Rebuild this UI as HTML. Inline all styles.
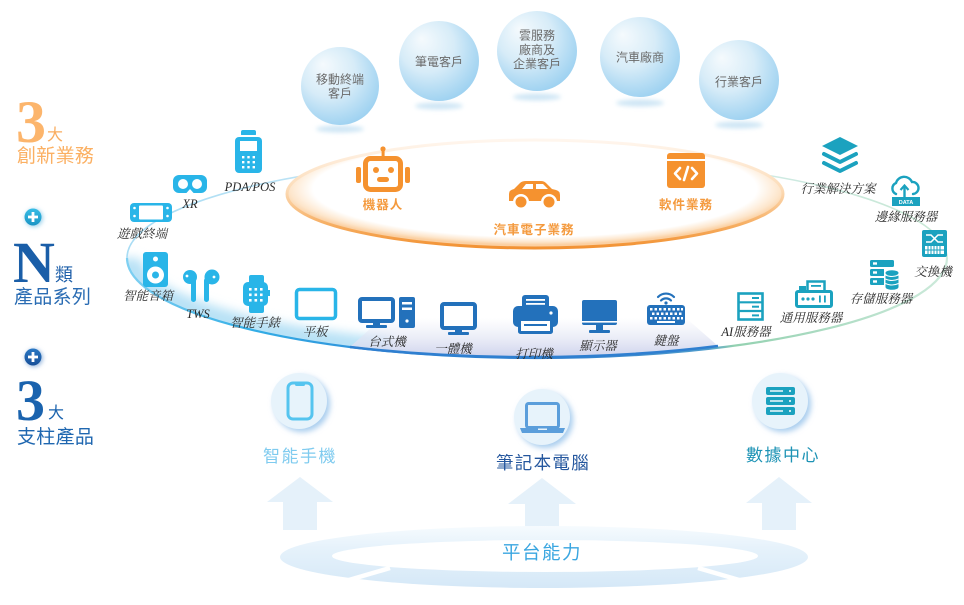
<!DOCTYPE html>
<html><head><meta charset="utf-8">
<style>
html,body{margin:0;padding:0;background:#fff;}
svg{display:block;}
.dl{font-family:"Liberation Serif","Noto Serif CJK SC",serif;font-style:italic;font-size:12.5px;fill:#2b2b2b;text-anchor:middle;}
.bt{font-family:"Liberation Sans","Noto Sans CJK TC",sans-serif;font-size:12px;fill:#6a6a6a;text-anchor:middle;}
.ol{font-family:"Liberation Sans","Noto Sans CJK TC",sans-serif;font-size:12.5px;font-weight:bold;fill:#f49a3e;text-anchor:middle;letter-spacing:1px;}
.cj{font-family:"Liberation Sans","Noto Sans CJK TC",sans-serif;}
.sf{font-family:"Liberation Serif",serif;font-weight:bold;}
</style></head><body>
<svg width="964" height="605" viewBox="0 0 964 605" xmlns="http://www.w3.org/2000/svg">
<defs>
  <radialGradient id="bub" cx="42%" cy="38%" r="68%" fx="28%" fy="22%">
    <stop offset="0" stop-color="#f5fafd"/>
    <stop offset="0.5" stop-color="#d7ecf8"/>
    <stop offset="1" stop-color="#98cff0"/>
  </radialGradient>
  <filter id="b2" x="-50%" y="-50%" width="200%" height="200%"><feGaussianBlur stdDeviation="2"/></filter>
  <filter id="b3" x="-50%" y="-50%" width="200%" height="200%"><feGaussianBlur stdDeviation="3"/></filter>
  <filter id="b5" x="-20%" y="-50%" width="140%" height="200%"><feGaussianBlur stdDeviation="5"/></filter>
  <radialGradient id="ofill" cx="50%" cy="45%" r="52%">
    <stop offset="0" stop-color="#ffffff"/>
    <stop offset="0.86" stop-color="#ffffff"/>
    <stop offset="0.95" stop-color="#fde6cc"/>
    <stop offset="1" stop-color="#fbd0a2"/>
  </radialGradient>
  <linearGradient id="ostroke" x1="0" y1="0" x2="0" y2="1">
    <stop offset="0" stop-color="#fff6ee"/>
    <stop offset="0.45" stop-color="#fcdcb8"/>
    <stop offset="0.8" stop-color="#f6ac5e"/>
    <stop offset="1" stop-color="#f29233"/>
  </linearGradient>
  <linearGradient id="ring" gradientUnits="userSpaceOnUse" x1="127" y1="0" x2="947" y2="0">
    <stop offset="0" stop-color="#7fd0f2"/>
    <stop offset="0.15" stop-color="#33aee6"/>
    <stop offset="0.27" stop-color="#3096dc"/>
    <stop offset="0.5" stop-color="#2f7ccc"/>
    <stop offset="0.71" stop-color="#4f9ccc"/>
    <stop offset="0.74" stop-color="#93d1b0"/>
    <stop offset="1" stop-color="#cdeadb"/>
  </linearGradient>
  <linearGradient id="ringtop" gradientUnits="userSpaceOnUse" x1="127" y1="0" x2="947" y2="0">
    <stop offset="0" stop-color="#a8dcf4"/>
    <stop offset="0.5" stop-color="#d6ecf6"/>
    <stop offset="1" stop-color="#c8e8d4"/>
  </linearGradient>
  <linearGradient id="shelf" x1="0" y1="0" x2="0" y2="1">
    <stop offset="0" stop-color="#e4e7f5" stop-opacity="0"/>
    <stop offset="0.6" stop-color="#e0e3f3" stop-opacity="0.8"/>
    <stop offset="1" stop-color="#cdd2ec"/>
  </linearGradient>
  <linearGradient id="plat" x1="0" y1="0" x2="0" y2="1">
    <stop offset="0" stop-color="#f6fbfe"/>
    <stop offset="0.35" stop-color="#e6f2fb"/>
    <stop offset="1" stop-color="#d5e8f7"/>
  </linearGradient>
  <clipPath id="ellclip"><ellipse cx="537" cy="258" rx="410" ry="100"/></clipPath>
  <linearGradient id="p1" x1="0" y1="0" x2="0" y2="1">
    <stop offset="0" stop-color="#38bde6"/><stop offset="1" stop-color="#1a94c4"/>
  </linearGradient>
  <linearGradient id="p2" x1="0" y1="0" x2="0" y2="1">
    <stop offset="0" stop-color="#2a78c4"/><stop offset="1" stop-color="#174f98"/>
  </linearGradient>
</defs>

<rect width="964" height="605" fill="#fff"/>

<!-- Left titles -->
<text x="16" y="142" class="sf" font-size="60" fill="#fcb56c">3</text>
<text x="47" y="140" class="cj" font-size="16" fill="#f9ad60">大</text>
<text x="17" y="162" class="cj" font-size="19" fill="#fbb063" letter-spacing="0.3">創新業務</text>

<circle cx="34" cy="218" r="9" fill="#9fd3ec" filter="url(#b2)"/>
<circle cx="33" cy="217" r="8.5" fill="url(#p1)"/>
<rect x="28" y="215.6" width="10" height="2.8" fill="#fff"/>
<rect x="31.6" y="212" width="2.8" height="10" fill="#fff"/>

<text x="13" y="282" class="sf" font-size="58" fill="#1a5ea8">N</text>
<text x="55" y="281" class="cj" font-size="18" fill="#1e5fa9">類</text>
<text x="14" y="303" class="cj" font-size="19" fill="#2a6cb3" letter-spacing="0.3">產品系列</text>

<circle cx="34" cy="358" r="9" fill="#9dbbe0" filter="url(#b2)"/>
<circle cx="33" cy="357" r="8.5" fill="url(#p2)"/>
<rect x="28" y="355.6" width="10" height="2.8" fill="#fff"/>
<rect x="31.6" y="352" width="2.8" height="10" fill="#fff"/>

<text x="16" y="420" class="sf" font-size="58" fill="#1a63ae">3</text>
<text x="48" y="418" class="cj" font-size="16" fill="#1a63ae">大</text>
<text x="17" y="443" class="cj" font-size="19" fill="#1f67b0" letter-spacing="0.3">支柱產品</text>

<!-- Big ring -->
<g clip-path="url(#ellclip)">
  <path d="M127,258 A410,100 0 0 0 390,352" fill="none" stroke="#b9e2f6" stroke-width="28" filter="url(#b5)"/>
</g>
<path d="M350,347 L382,318 L686,318 L718,346 A410,100 0 0 1 350,347 Z" fill="url(#shelf)"/>
<path d="M127,258 A410,100 0 0 1 947,258" fill="none" stroke="url(#ringtop)" stroke-width="1.6"/>
<path d="M127,258 A410,100 0 0 0 947,258" fill="none" stroke="url(#ring)" stroke-width="2.2"/>
<path d="M350,347 A410,100 0 0 0 718,346" fill="none" stroke="#2f7fd0" stroke-width="2.6"/>

<!-- Bubbles -->
<g fill="#cfe6f5" filter="url(#b2)">
  <ellipse cx="340" cy="129" rx="24" ry="3.5"/>
  <ellipse cx="439" cy="106" rx="24" ry="3.5"/>
  <ellipse cx="537" cy="97" rx="24" ry="3.5"/>
  <ellipse cx="640" cy="103" rx="24" ry="3.5"/>
  <ellipse cx="739" cy="125" rx="24" ry="3.5"/>
</g>
<circle cx="340" cy="86" r="39" fill="url(#bub)"/>
<circle cx="439" cy="61" r="40" fill="url(#bub)"/>
<circle cx="537" cy="51" r="40" fill="url(#bub)"/>
<circle cx="640" cy="57" r="40" fill="url(#bub)"/>
<circle cx="739" cy="80" r="40" fill="url(#bub)"/>
<text x="340" y="83.5" class="bt">移動終端</text>
<text x="340" y="97.5" class="bt">客戶</text>
<text x="439" y="66" class="bt">筆電客戶</text>
<text x="537" y="39.5" class="bt">雲服務</text>
<text x="537" y="54" class="bt">廠商及</text>
<text x="537" y="68" class="bt">企業客戶</text>
<text x="640" y="61.5" class="bt">汽車廠商</text>
<text x="739" y="86" class="bt">行業客戶</text>

<!-- Orange ellipse -->
<ellipse cx="535" cy="194" rx="248" ry="54" fill="url(#ofill)"/>
<ellipse cx="535" cy="194" rx="248" ry="54" fill="none" stroke="url(#ostroke)" stroke-width="3"/>

<!-- Robot -->
<g fill="#f5922f">
  <rect x="381.6" y="149" width="3" height="9"/>
  <circle cx="383" cy="149" r="2.6"/>
  <rect x="356" y="167" width="5" height="16" rx="2"/>
  <rect x="405" y="167" width="5" height="16" rx="2"/>
</g>
<rect x="365.5" y="158.5" width="35" height="31" rx="5" fill="#fff" stroke="#f5922f" stroke-width="5"/>
<circle cx="376" cy="170" r="3" fill="#f5922f"/>
<circle cx="391" cy="170" r="3" fill="#f5922f"/>
<rect x="377" y="177" width="12" height="5" rx="2.5" fill="#f5922f"/>
<text x="383" y="209" class="ol">機器人</text>

<!-- Car -->
<path d="M509,201 L509,194 Q509,190 514,189 L520,183 Q522,181 526,181 L541,181 Q544,181 546,183 L552,189 L556,190 Q560,191 560,195 L560,201 Z" fill="#f5922f"/>
<polygon points="522,189 526,184 533,184 533,189" fill="#fff"/>
<polygon points="536,184 543,184 548,189 536,189" fill="#fff"/>
<circle cx="521" cy="202" r="8" fill="#fff"/>
<circle cx="549" cy="202" r="8" fill="#fff"/>
<circle cx="521" cy="202" r="5.5" fill="#f5922f"/>
<circle cx="549" cy="202" r="5.5" fill="#f5922f"/>
<text x="534" y="234" class="ol">汽車電子業務</text>

<!-- Software -->
<rect x="667" y="153" width="38" height="35" rx="3" fill="#f5922f"/>
<rect x="667" y="159" width="38" height="2" fill="#fff"/>
<g fill="none" stroke="#fff" stroke-width="2.6" stroke-linecap="round" stroke-linejoin="round">
  <polyline points="680,168 675,173.5 680,179"/>
  <polyline points="692,168 697,173.5 692,179"/>
  <line x1="688" y1="167" x2="684" y2="180"/>
</g>
<text x="686" y="209" class="ol">軟件業務</text>

<!-- Left cyan icons -->
<g fill="#29b5e8">
  <rect x="241" y="130" width="15" height="6" rx="2"/>
  <rect x="235" y="137" width="27" height="36" rx="4"/>
  <rect x="173" y="175" width="34" height="18" rx="6"/>
  <rect x="130" y="203" width="42" height="19" rx="4"/>
  <rect x="143" y="252" width="25" height="35" rx="3"/>
  <circle cx="190" cy="277" r="7"/>
  <rect x="191" y="278" width="5" height="24" rx="2.5"/>
  <circle cx="212" cy="277" r="7.5"/>
  <rect x="204" y="278" width="5" height="24" rx="2.5"/>
  <rect x="249" y="275" width="15" height="9" rx="2"/>
  <rect x="243" y="282" width="25" height="24" rx="5"/>
  <rect x="249" y="304" width="15" height="9" rx="2"/>
  <rect x="267" y="290" width="3" height="6"/>
</g>
<rect x="236" y="135" width="25" height="2" fill="#fff"/>
<rect x="240" y="141" width="17" height="10" fill="#fff"/>
<g fill="#fff">
  <rect x="242" y="156" width="2.4" height="2.4"/><rect x="247.3" y="156" width="2.4" height="2.4"/><rect x="252.6" y="156" width="2.4" height="2.4"/>
  <rect x="242" y="161" width="2.4" height="2.4"/><rect x="247.3" y="161" width="2.4" height="2.4"/><rect x="252.6" y="161" width="2.4" height="2.4"/>
  <rect x="242" y="166" width="2.4" height="2.4"/><rect x="247.3" y="166" width="2.4" height="2.4"/><rect x="252.6" y="166" width="2.4" height="2.4"/>
  <circle cx="183" cy="184" r="5"/><circle cx="197" cy="184" r="5"/>
  <polygon points="186,193.5 190,189 194,193.5"/>
  <rect x="139" y="205.5" width="24" height="14" rx="1"/>
  <circle cx="134.5" cy="208" r="1.3"/><circle cx="134.5" cy="216" r="1.3"/>
  <circle cx="167.5" cy="208" r="1.3"/><circle cx="167.5" cy="216" r="1.3"/>
  <circle cx="155.5" cy="259" r="2.5"/>
  <circle cx="155.5" cy="275" r="8.5"/>
  <circle cx="187" cy="276" r="1.4"/><circle cx="214" cy="277" r="1.4"/>
  <rect x="249" y="288" width="2.6" height="2.6"/><rect x="254.5" y="288" width="2.6" height="2.6"/><rect x="260" y="288" width="2.6" height="2.6"/>
  <rect x="249" y="293.5" width="2.6" height="2.6"/><rect x="254.5" y="293.5" width="2.6" height="2.6"/><rect x="260" y="293.5" width="2.6" height="2.6"/>
  <rect x="249" y="299" width="2.6" height="2.6"/><rect x="254.5" y="299" width="2.6" height="2.6"/><rect x="260" y="299" width="2.6" height="2.6"/>
</g>
<circle cx="155.5" cy="275" r="3.5" fill="#29b5e8"/>
<rect x="296.5" y="289.5" width="39" height="29" rx="3" fill="#fff" stroke="#29b5e8" stroke-width="3.5"/>

<text x="250" y="191" class="dl">PDA/POS</text>
<text x="190" y="208" class="dl">XR</text>
<text x="142" y="238" class="dl">遊戲終端</text>
<text x="148" y="300" class="dl">智能音箱</text>
<text x="198" y="318" class="dl">TWS</text>
<text x="255" y="327" class="dl">智能手錶</text>
<text x="315" y="336" class="dl">平板</text>

<!-- Blue devices -->
<g fill="#2371bb">
  <rect x="373" y="321" width="7" height="4"/>
  <rect x="366" y="325" width="21" height="3" rx="1"/>
  <rect x="399" y="297" width="16" height="31" rx="2"/>
  <rect x="455" y="328" width="7" height="4"/>
  <rect x="448" y="332" width="21" height="3" rx="1"/>
  <rect x="522" y="295" width="27" height="14" rx="3"/>
  <rect x="513" y="306" width="45" height="21" rx="5"/>
  <rect x="582" y="300" width="35" height="25" rx="2"/>
  <rect x="596" y="325" width="7" height="5"/>
  <rect x="589" y="330" width="21" height="3" rx="1"/>
  <rect x="647" y="305" width="38" height="20" rx="3"/>
</g>
<rect x="360" y="299" width="33" height="22" rx="2" fill="#fff" stroke="#2371bb" stroke-width="4"/>
<rect x="402" y="302" width="10" height="2.5" fill="#fff"/>
<rect x="402" y="307.5" width="10" height="2.5" fill="#fff"/>
<circle cx="407" cy="321" r="1.6" fill="#fff"/>
<rect x="442" y="304" width="33" height="24" rx="2" fill="#fff" stroke="#2371bb" stroke-width="4"/>
<rect x="526" y="299" width="19" height="1.8" fill="#fff"/>
<rect x="526" y="303" width="19" height="1.8" fill="#fff"/>
<rect x="519.5" y="319.5" width="32" height="13" rx="1" fill="#fff" stroke="#2371bb" stroke-width="3"/>
<rect x="524" y="324" width="23" height="2" fill="#2371bb"/>
<circle cx="551" cy="313" r="1.6" fill="#fff"/>
<rect x="582" y="321" width="35" height="1.6" fill="#fff"/>
<g fill="none" stroke="#2371bb" stroke-width="2.2" stroke-linecap="round">
  <path d="M658,297 A11,11 0 0 1 674,297"/>
  <path d="M661,300.5 A7,7 0 0 1 671,300.5"/>
</g>
<circle cx="666" cy="303" r="1.6" fill="#2371bb"/>
<g fill="#fff">
  <rect x="650" y="308" width="2.5" height="2.5"/><rect x="654.5" y="308" width="2.5" height="2.5"/><rect x="659" y="308" width="2.5" height="2.5"/><rect x="663.5" y="308" width="2.5" height="2.5"/><rect x="668" y="308" width="2.5" height="2.5"/><rect x="672.5" y="308" width="2.5" height="2.5"/><rect x="677" y="308" width="2.5" height="2.5"/><rect x="681" y="308" width="2" height="2.5"/>
  <rect x="652" y="312.5" width="2.5" height="2.5"/><rect x="656.5" y="312.5" width="2.5" height="2.5"/><rect x="661" y="312.5" width="2.5" height="2.5"/><rect x="665.5" y="312.5" width="2.5" height="2.5"/><rect x="670" y="312.5" width="2.5" height="2.5"/><rect x="674.5" y="312.5" width="2.5" height="2.5"/><rect x="679" y="312.5" width="2.5" height="2.5"/>
  <rect x="650" y="317" width="2.5" height="2.5"/><rect x="654.5" y="317" width="2.5" height="2.5"/><rect x="659" y="317" width="2.5" height="2.5"/><rect x="663.5" y="317" width="2.5" height="2.5"/><rect x="668" y="317" width="2.5" height="2.5"/><rect x="672.5" y="317" width="2.5" height="2.5"/><rect x="677" y="317" width="2.5" height="2.5"/><rect x="681" y="317" width="2" height="2.5"/>
  <rect x="657" y="321" width="18" height="2"/>
</g>

<text x="387" y="346" class="dl">台式機</text>
<text x="453" y="353" class="dl">一體機</text>
<text x="534" y="358" class="dl">打印機</text>
<text x="598" y="350" class="dl">顯示器</text>
<text x="666" y="345" class="dl">鍵盤</text>

<!-- Teal right icons -->
<polygon points="840,137 858,146 840,155 822,146" fill="#1ba2bf"/>
<g fill="none" stroke="#1ba2bf" stroke-width="4" stroke-linejoin="round" stroke-linecap="round">
  <polyline points="824,154 840,162 856,154"/>
  <polyline points="824,163 840,171 856,163"/>
</g>
<path d="M896,194 A6,6 0 0 1 896,183 A8.5,8.5 0 0 1 912,182 A6,6 0 0 1 913,194" fill="none" stroke="#1ba2bf" stroke-width="2.4" stroke-linecap="round"/>
<line x1="904.5" y1="198" x2="904.5" y2="186" stroke="#1ba2bf" stroke-width="2.4"/>
<polyline points="900.5,190 904.5,185.5 908.5,190" fill="none" stroke="#1ba2bf" stroke-width="2.2"/>
<rect x="892" y="197" width="28" height="9" fill="#1ba2bf"/>
<text x="906" y="203.8" font-family="Liberation Sans,sans-serif" font-size="5.5" font-weight="bold" fill="#fff" text-anchor="middle">DATA</text>

<rect x="922" y="230" width="25" height="27" rx="2" fill="#1ba2bf"/>
<g stroke="#fff" stroke-width="1.5" fill="none">
  <path d="M926,235 L931,235 L938,242 L943,242"/>
  <path d="M926,242 L931,242 L938,235 L943,235"/>
</g>
<rect x="925" y="246" width="19" height="8" fill="#fff"/>
<g stroke="#1ba2bf" stroke-width="1">
  <line x1="925" y1="250" x2="944" y2="250"/>
  <line x1="928" y1="246" x2="928" y2="254"/><line x1="931" y1="246" x2="931" y2="254"/><line x1="934" y1="246" x2="934" y2="254"/><line x1="937" y1="246" x2="937" y2="254"/><line x1="940" y1="246" x2="940" y2="254"/>
</g>

<g fill="#1ba2bf">
  <rect x="870" y="260" width="24" height="7" rx="1.5"/>
  <rect x="870" y="269" width="15" height="7" rx="1.5"/>
  <rect x="870" y="278" width="15" height="7" rx="1.5"/>
</g>
<g fill="#fff">
  <rect x="873" y="262.3" width="4" height="2.4"/><rect x="873" y="271.3" width="4" height="2.4"/><rect x="873" y="280.3" width="4" height="2.4"/>
</g>
<rect x="884" y="268" width="16" height="22" fill="#fff"/>
<g fill="#1ba2bf">
  <ellipse cx="892" cy="273" rx="6.5" ry="2.8"/>
  <rect x="885.5" y="275" width="13" height="12"/>
  <ellipse cx="892" cy="287" rx="6.5" ry="2.8"/>
</g>
<g fill="none" stroke="#fff" stroke-width="1">
  <path d="M885.5,279 Q892,282 898.5,279"/>
  <path d="M885.5,283.5 Q892,286.5 898.5,283.5"/>
  <path d="M885.5,275 Q892,278 898.5,275"/>
</g>

<rect x="807.5" y="281.5" width="17" height="10" fill="#fff" stroke="#1ba2bf" stroke-width="2.5"/>
<rect x="811" y="285" width="10" height="1.8" fill="#1ba2bf"/>
<rect x="799" y="286" width="7" height="5" fill="#1ba2bf"/>
<rect x="796.5" y="291.5" width="35" height="15" rx="1.5" fill="#fff" stroke="#1ba2bf" stroke-width="3"/>
<g fill="#1ba2bf">
  <circle cx="803" cy="299" r="1.6"/><circle cx="808" cy="299" r="1.6"/><circle cx="813" cy="299" r="1.6"/>
  <rect x="819" y="295.5" width="1.8" height="7"/><rect x="824" y="295.5" width="1.8" height="7"/>
</g>

<rect x="738.5" y="293.5" width="24" height="26" fill="#fff" stroke="#1ba2bf" stroke-width="2.6"/>
<g stroke="#1ba2bf" stroke-width="2.2">
  <line x1="738" y1="302.3" x2="763" y2="302.3"/>
  <line x1="738" y1="311" x2="763" y2="311"/>
</g>
<g fill="#1ba2bf">
  <rect x="752" y="297" width="7" height="2"/><rect x="752" y="305.7" width="7" height="2"/><rect x="752" y="314.4" width="7" height="2"/>
</g>

<text x="838" y="193" class="dl">行業解決方案</text>
<text x="906" y="221" class="dl">邊緣服務器</text>
<text x="933" y="276" class="dl">交換機</text>
<text x="881" y="303" class="dl">存儲服務器</text>
<text x="811" y="322" class="dl">通用服務器</text>
<text x="746" y="336" class="dl">AI服務器</text>

<!-- Pillars -->
<circle cx="302" cy="404" r="28" fill="#a9cdee" filter="url(#b3)"/>
<circle cx="299" cy="401" r="28" fill="#e7f3fb"/>
<circle cx="545" cy="420" r="28" fill="#a9cdee" filter="url(#b3)"/>
<circle cx="542" cy="417" r="28" fill="#e7f3fb"/>
<circle cx="783" cy="404" r="28" fill="#a9cdee" filter="url(#b3)"/>
<circle cx="780" cy="401" r="28" fill="#e7f3fb"/>

<rect x="288" y="383" width="24" height="36" rx="5" fill="none" stroke="#55c4ef" stroke-width="3"/>
<rect x="295" y="383" width="10" height="3" rx="1.5" fill="#55c4ef"/>

<rect x="526.5" y="403.5" width="32" height="24" rx="2" fill="none" stroke="#5b9edb" stroke-width="3"/>
<path d="M520,428 L565,428 L563,433 L522,433 Z" fill="#5b9edb"/>
<rect x="538" y="428.5" width="9" height="1.5" fill="#e7f3fb"/>

<g fill="#1ba2bf">
  <rect x="766" y="387" width="29" height="8" rx="2"/>
  <rect x="766" y="397" width="29" height="8" rx="2"/>
  <rect x="766" y="407" width="29" height="8" rx="2"/>
</g>
<g fill="#fff">
  <rect x="770" y="390.3" width="13" height="1.4"/><rect x="770" y="400.3" width="13" height="1.4"/><rect x="770" y="410.3" width="13" height="1.4"/>
  <circle cx="790" cy="391" r="1"/><circle cx="790" cy="401" r="1"/><circle cx="790" cy="411" r="1"/>
</g>

<text x="300" y="462" class="cj" font-size="17" fill="#7fcbef" text-anchor="middle" letter-spacing="1.5">智能手機</text>
<text x="543" y="469" class="cj" font-size="17.5" fill="#25579e" text-anchor="middle" letter-spacing="1.3">筆記本電腦</text>
<text x="783" y="461" class="cj" font-size="17" fill="#1d93b5" text-anchor="middle" letter-spacing="1.5">數據中心</text>

<!-- Arrows -->
<g fill="#e5f1fa">
  <polygon points="300,477 333,502 317,502 317,530 283,530 283,502 267,502"/>
  <polygon points="542,478 576,504 559,504 559,532 525,532 525,504 508,504"/>
  <polygon points="779,477 812,503 796,503 796,530 762,530 762,503 746,503"/>
</g>

<!-- Platform ring -->
<ellipse cx="544" cy="557" rx="264" ry="31" fill="url(#plat)"/>
<ellipse cx="545" cy="556" rx="213" ry="16" fill="#fff"/>
<g stroke="#fff" stroke-width="4.5">
  <line x1="342" y1="582" x2="390" y2="568"/>
  <line x1="746" y1="582" x2="698" y2="568"/>
</g>
<text x="542" y="559" class="cj" font-size="18.5" fill="#3aa6e0" text-anchor="middle" letter-spacing="1.5">平台能力</text>
</svg>
</body></html>
